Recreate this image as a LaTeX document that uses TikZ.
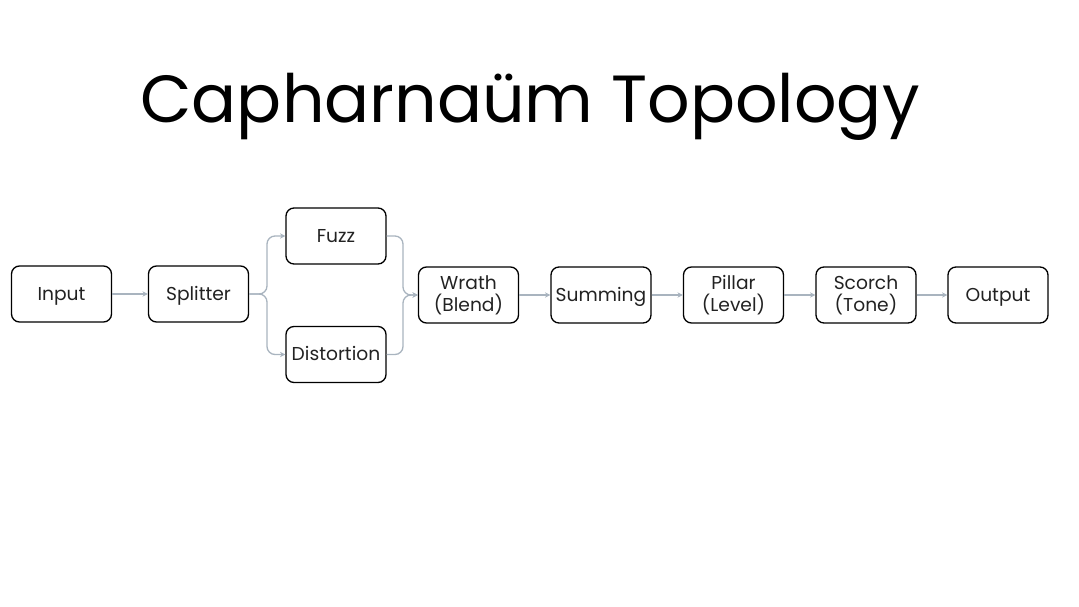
\documentclass[tikz,border=0pt]{standalone}
\usepackage{fontspec}
\setmainfont{Poppins}
\usetikzlibrary{arrows.meta}
\definecolor{conn}{HTML}{A9B4BF}
\definecolor{txt}{HTML}{222222}
\begin{document}
\begin{tikzpicture}[x=0.75pt,y=-0.75pt,
  box/.style={draw=black,line width=1pt,rounded corners=6pt,minimum width=75pt,minimum height=42pt,
    align=center,font=\fontsize{14}{16.5}\selectfont,text=txt,inner sep=1pt},
  one/.style={text height=9.6pt,text depth=0pt},
  link/.style={draw=conn,line width=1pt,-{Stealth[length=4pt,width=4pt]}}]
\useasboundingbox (0,0) rectangle (1079,607);
\node[font=\fontsize{50}{56}\selectfont] (title) at (530,107) {Capharnaüm Topology};
\node[box,one] (in) at (61.5,294) {Input};
\node[box,one] (sp) at (198.5,294) {Splitter};
\node[box,one] (fz) at (336,236) {Fuzz};
\node[box,one] (ds) at (336,354.5) {Distortion};
\node[box] (wr) at (468.5,295) {Wrath\\(Blend)};
\node[box,one] (su) at (601,295) {Summing};
\node[box] (pi) at (733.5,295) {Pillar\\(Level)};
\node[box] (sc) at (866,295) {Scorch\\(Tone)};
\node[box,one] (ou) at (998,295) {Output};
\coordinate (j1) at (267,294);
\coordinate (j2) at (403,295);
\draw[link] (in) -- (sp);
\draw[link,rounded corners=6pt] (sp.east) -- (j1) |- (fz.west);
\draw[link,rounded corners=6pt] (sp.east) -- (j1) |- (ds.west);
\draw[link,rounded corners=6pt] (fz.east) -| (j2) -- (wr.west);
\draw[link,rounded corners=6pt] (ds.east) -| (j2) -- (wr.west);
\draw[link] (wr) -- (su);
\draw[link] (su) -- (pi);
\draw[link] (pi) -- (sc);
\draw[link] (sc) -- (ou);
\end{tikzpicture}
\end{document}
